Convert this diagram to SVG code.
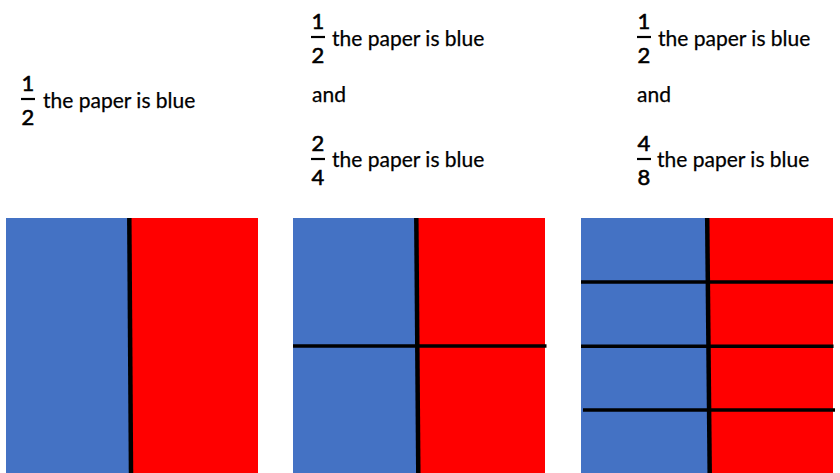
<svg xmlns="http://www.w3.org/2000/svg" width="840" height="473" viewBox="0 0 840 473">
  <style>
    .t { font-family: Lato, "Open Sans", "Liberation Sans", sans-serif; font-size: 21px; fill: #000; stroke: #000; stroke-width: 0.25; }
    .d { font-family: Lato, "Open Sans", "Liberation Sans", sans-serif; font-size: 22px; fill: #000; stroke: #000; stroke-width: 0.6; text-anchor: middle; }
    .bar { stroke: #000; stroke-width: 2.2; }
    .blue { fill: #4472C4; }
    .red { fill: #FF0000; }
    .cut { stroke: #000; stroke-width: 4.5; fill: none; }
    .hcut { stroke: #000; stroke-width: 3.5; fill: none; }
  </style>
  <rect width="840" height="473" fill="#fff"/>

  <g id="label1">
    <text class="d" x="28" y="91">1</text>
    <line class="bar" x1="21" y1="99" x2="35" y2="99"/>
    <text class="d" x="28" y="125">2</text>
    <text class="t" x="43" y="108">the paper is blue</text>
  </g>

  <g id="label2">
    <text class="d" x="318" y="29">1</text>
    <line class="bar" x1="311" y1="37" x2="325" y2="37"/>
    <text class="d" x="318" y="63">2</text>
    <text class="t" x="332" y="46">the paper is blue</text>
    <text class="t" x="312" y="102">and</text>
    <text class="d" x="318" y="151">2</text>
    <line class="bar" x1="311" y1="159" x2="325" y2="159"/>
    <text class="d" x="318" y="185">4</text>
    <text class="t" x="332" y="167">the paper is blue</text>
  </g>

  <g id="label3">
    <text class="d" x="644" y="29">1</text>
    <line class="bar" x1="637" y1="37" x2="651" y2="37"/>
    <text class="d" x="644" y="63">2</text>
    <text class="t" x="658" y="46">the paper is blue</text>
    <text class="t" x="637" y="102">and</text>
    <text class="d" x="644" y="151">4</text>
    <line class="bar" x1="637" y1="159" x2="651" y2="159"/>
    <text class="d" x="644" y="185">8</text>
    <text class="t" x="657" y="167">the paper is blue</text>
  </g>

  <g id="paper1">
    <rect class="blue" x="6" y="218" width="124" height="255"/>
    <rect class="red" x="130" y="218" width="128" height="255"/>
    <line class="cut" x1="129.3" y1="218" x2="131" y2="473"/>
  </g>

  <g id="paper2">
    <rect class="blue" x="293" y="218" width="124" height="255"/>
    <rect class="red" x="417" y="218" width="128" height="255"/>
    <line class="cut" x1="416.3" y1="218" x2="418.3" y2="473"/>
    <line class="hcut" x1="293" y1="346" x2="546.5" y2="346"/>
  </g>

  <g id="paper3">
    <rect class="blue" x="581" y="218" width="127" height="255"/>
    <rect class="red" x="708" y="218" width="125" height="255"/>
    <line class="cut" x1="707.2" y1="218" x2="709.7" y2="473"/>
    <line class="hcut" x1="581" y1="282" x2="833" y2="282"/>
    <line class="hcut" x1="581" y1="346.3" x2="833.5" y2="346.3"/>
    <line class="hcut" x1="583" y1="410" x2="835" y2="410"/>
  </g>

  <g id="connectors"/>
</svg>
